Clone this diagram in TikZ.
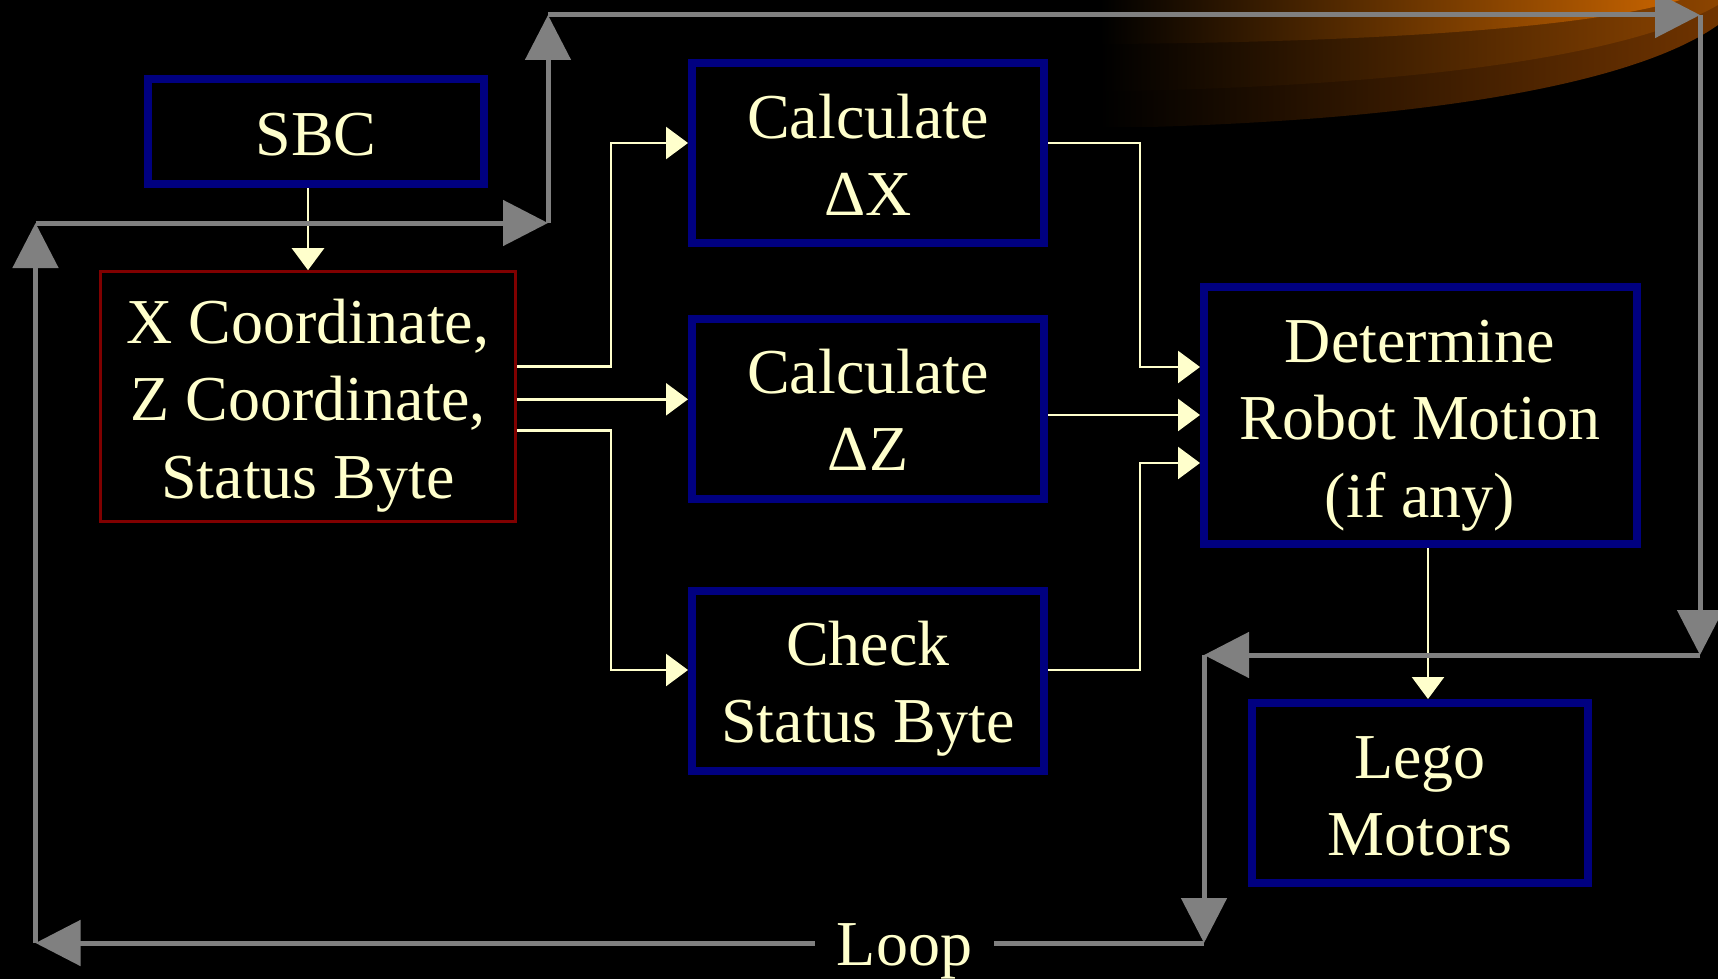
\documentclass[tikz,border=0pt]{standalone}
\usepackage{fontspec}
\setmainfont{Liberation Serif}
\usetikzlibrary{arrows.meta}

\definecolor{cream}{HTML}{FFFFCC}
\definecolor{navyline}{HTML}{000080}
\definecolor{maroonline}{HTML}{800000}
\definecolor{loopgray}{HTML}{808080}
\definecolor{glowA}{RGB}{200,100,0}
\definecolor{glowB}{RGB}{140,68,0}
\definecolor{glowC}{RGB}{112,52,0}

% centred multi-line label whose baseline is the first line
\newcommand\cellstack[1]{\begin{tabular}[t]{@{}c@{}}#1\end{tabular}}

\begin{document}
\begin{tikzpicture}[x=1pt,y=-1pt,
  bluebox/.style={draw=navyline, line width=8pt, inner sep=0pt},
  redbox/.style={draw=maroonline, line width=3pt, inner sep=0pt},
  lbl/.style={text=cream, font=\fontsize{64}{77.5}\selectfont, anchor=base, inner sep=0pt},
  flow/.style={draw=cream, line width=2.5pt, -{Triangle[length=22pt,width=32pt]}},
  loopline/.style={draw=loopgray, line width=5pt, -{Triangle[length=45pt,width=45pt]}},
  loopseg/.style={draw=loopgray, line width=5pt}]

% canvas
\useasboundingbox (0,0) rectangle (1718,979);
\fill[black] (0,0) rectangle (1718,979);

% orange swoosh in the upper right corner
\shade[left color=black, right color=glowC]
  (1100,0) -- (1718,0) -- (1718,25) .. controls (1640,80) and (1450,118) .. (1150,127) -- (1100,127) -- cycle;
\shade[left color=black, right color=glowB]
  (1100,0) -- (1718,0) -- (1718,5) .. controls (1640,50) and (1450,84) .. (1130,91) -- (1100,91) -- cycle;
\shade[left color=black, right color=glowA]
  (1100,0) -- (1680,0) .. controls (1600,25) and (1400,42) .. (1110,44) -- (1100,44) -- cycle;

% boxes
\node[bluebox, minimum width=336pt, minimum height=105pt] (sbc) at (316,131.5) {};
\node[redbox,  minimum width=415pt, minimum height=250pt] (xyz) at (308,396.7) {};
\node[bluebox, minimum width=352pt, minimum height=180pt] (dx)  at (868,153) {};
\node[bluebox, minimum width=352pt, minimum height=180pt] (dz)  at (868,409) {};
\node[bluebox, minimum width=352pt, minimum height=180pt] (ck)  at (868,681) {};
\node[bluebox, minimum width=433pt, minimum height=257pt] (dm)  at (1420.5,415.5) {};
\node[bluebox, minimum width=336pt, minimum height=180pt] (lego) at (1420,793) {};

% labels
\node[lbl] (sbc-t)  at (316,155)    {SBC};
\node[lbl] (xyz-t)  at (308,343)    {\cellstack{X Coordinate,\\ Z Coordinate,\\ Status Byte}};
\node[lbl] (dx-t)   at (868,138.3)  {\cellstack{Calculate\\ ΔX}};
\node[lbl] (dz-t)   at (868,393.3)  {\cellstack{Calculate\\ ΔZ}};
\node[lbl] (ck-t)   at (868,665)    {\cellstack{Check\\ Status Byte}};
\node[lbl] (dm-t)   at (1420,362)   {\cellstack{Determine\\ Robot Motion\\ (if any)}};
\node[lbl] (lego-t) at (1420,778)   {\cellstack{Lego\\ Motors}};
\node[lbl, inner xsep=22pt] (loop) at (904.5,965) {Loop};

% ports on the box edges
\coordinate (r1) at ([yshift=30pt]xyz.east);
\coordinate (r2) at ([yshift=-2.6pt]xyz.east);
\coordinate (r3) at ([yshift=-34pt]xyz.east);
\coordinate (dx-in)  at ([yshift=10pt]dx.west);
\coordinate (ck-in)  at ([yshift=11pt]ck.west);
\coordinate (dx-out) at ([yshift=10pt]dx.east);
\coordinate (dz-out) at ([yshift=-6pt]dz.east);
\coordinate (ck-out) at ([yshift=11pt]ck.east);
\coordinate (dm1) at ([yshift=48.5pt]dm.west);
\coordinate (dm3) at ([yshift=-47.5pt]dm.west);
\coordinate (dm-out) at ([xshift=7.5pt]dm.south);
\coordinate (busL) at (611,0);
\coordinate (busR) at (1140,0);

% data flow
\draw[flow] (sbc.south -| xyz.north) -- (xyz.north);
\draw[flow] (r1) -- (r1 -| busL) |- (dx-in);
\draw[flow] (r2) -- (r2 -| dz.west);
\draw[flow] (r3) -- (r3 -| busL) |- (ck-in);
\draw[flow] (dx-out) -| (busR |- dm1) -- (dm1);
\draw[flow] (dz-out) -- (dz-out -| dm.west);
\draw[flow] (ck-out) -| (busR |- dm3) -- (dm3);
\draw[flow] (dm-out) -- (dm-out |- lego.north);

% outer loop
\coordinate (c1) at (35.5,943);
\coordinate (c2) at (35.5,223);
\coordinate (c3) at (548,223);
\coordinate (c4) at (548,15);
\coordinate (c5) at (1700,15);
\coordinate (c6) at (1700,655);
\coordinate (c7) at (1204,655);
\coordinate (c8) at (1204,943);
\draw[loopline] (c8 -| loop.west) -- (c1);
\draw[loopline] (c1) -- (c2);
\draw[loopline] (c2) -- (c3);
\draw[loopline] (c3) -- (c4);
\draw[loopline] (c4) -- (c5);
\draw[loopline] (c5) -- (c6);
\draw[loopline] (c6) -- (c7);
\draw[loopline] (c7) -- (c8);
\draw[loopseg]  (c8) -- (c8 -| loop.east);

\end{tikzpicture}
\end{document}
